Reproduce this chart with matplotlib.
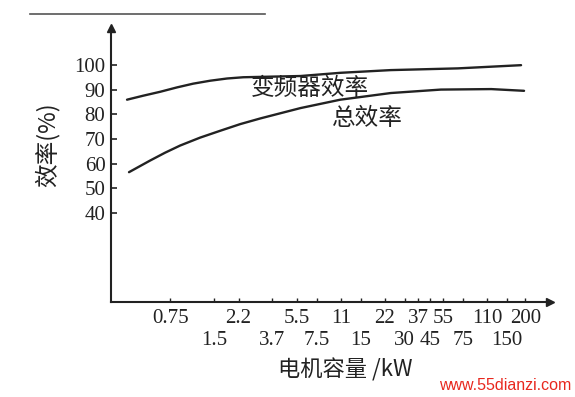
import matplotlib
matplotlib.use("Agg")
import matplotlib.pyplot as plt
from matplotlib.ticker import FixedLocator, FixedFormatter
from matplotlib.lines import Line2D

# Data
row1_ticks = [0.75, 2.2, 5.5, 11, 22, 37, 55, 110, 200]
row1_labels = ["0.75", "2.2", "5.5", "11", "22", "37", "55", "110", "200"]
row2_ticks = [1.5, 3.7, 7.5, 15, 30, 45, 75, 150]
row2_labels = ["1.5", "3.7", "7.5", "15", "30", "45", "75", "150"]
y_ticks = [40, 50, 60, 70, 80, 90, 100]

inv_kw = [0.381, 0.49, 0.641, 0.838, 1.078, 1.41, 1.84, 2.37, 4.05, 5.83, 10.9, 24.1, 69.3, 187]
inv_eff = [86.0, 87.6, 89.2, 91.0, 92.5, 93.7, 94.6, 95.1, 95.4, 95.6, 96.9, 98.0, 98.7, 100.0]
tot_kw = [0.393, 0.547, 0.693, 0.878, 1.20, 1.65, 2.26, 3.10, 4.25, 5.83, 10.9, 24.1, 53.0, 117, 196]
tot_eff = [56.6, 61.3, 64.5, 67.4, 70.6, 73.4, 76.1, 78.4, 80.5, 82.6, 86.0, 88.7, 90.1, 90.3, 89.6]

cjk = ["Noto Sans CJK SC", "DejaVu Sans"]
serif = "Liberation Serif"
ink = "#222222"

fig = plt.figure(figsize=(5.75, 3.97), dpi=100)
ax = fig.add_axes([0.193, 0.239, 0.764, 0.69])

ax.plot(inv_kw, inv_eff, color=ink, lw=1.7, solid_capstyle="round", solid_joinstyle="round")
ax.plot(tot_kw, tot_eff, color=ink, lw=1.7, solid_capstyle="round", solid_joinstyle="round")

ax.set_xscale("log")
ax.set_xlim(0.296, 296)
ax.set_ylim(3.9, 115)

ax.xaxis.set_major_locator(FixedLocator(row1_ticks))
ax.xaxis.set_major_formatter(FixedFormatter(row1_labels))
ax.xaxis.set_minor_locator(FixedLocator(row2_ticks))
ax.xaxis.set_minor_formatter(FixedFormatter(row2_labels))
ax.tick_params(axis="x", which="major", direction="in", length=3, width=1,
               pad=5, labelsize=15, colors=ink)
ax.tick_params(axis="x", which="minor", direction="in", length=3, width=1,
               pad=21, labelsize=15, colors=ink)
ax.set_yticks(y_ticks)
ax.set_yticklabels([str(v) for v in y_ticks])
ax.tick_params(axis="y", direction="in", length=4, width=1.2, pad=4,
               labelsize=15, colors=ink)
for lab in ax.get_xticklabels(which="both") + ax.get_yticklabels():
    lab.set_family(serif)

for s in ["top", "right"]:
    ax.spines[s].set_visible(False)
for s in ["left", "bottom"]:
    ax.spines[s].set_linewidth(1.5)
    ax.spines[s].set_color(ink)

# arrowheads
ax.plot([0], [1.0], marker="^", ms=6, color=ink, transform=ax.transAxes, clip_on=False)
ax.plot([1.0], [0], marker=">", ms=6, color=ink, transform=ax.transAxes, clip_on=False)

ax.text(6.8, 90.5, "变频器效率", family=cjk, fontsize=17, ha="center", va="center", color=ink)
ax.text(16.7, 78.4, "总效率", family=cjk, fontsize=17, ha="center", va="center", color=ink)

fig.text(0.082, 0.635, "效率(%)", family=cjk, fontsize=17, rotation=90,
         ha="center", va="center", color=ink)
fig.text(0.601, 0.068, "电机容量 /kW", family=cjk, fontsize=16, ha="center",
         va="center", color=ink)

# scan artifact line at top
fig.add_artist(Line2D([0.052, 0.46], [0.965, 0.965], color="#555555", lw=1.2))

fig.text(0.993, 0.03, "www.55dianzi.com", color="#e8281e", fontsize=11.5,
         ha="right", va="center", family="Liberation Sans")

fig.savefig("out.png", dpi=100)
